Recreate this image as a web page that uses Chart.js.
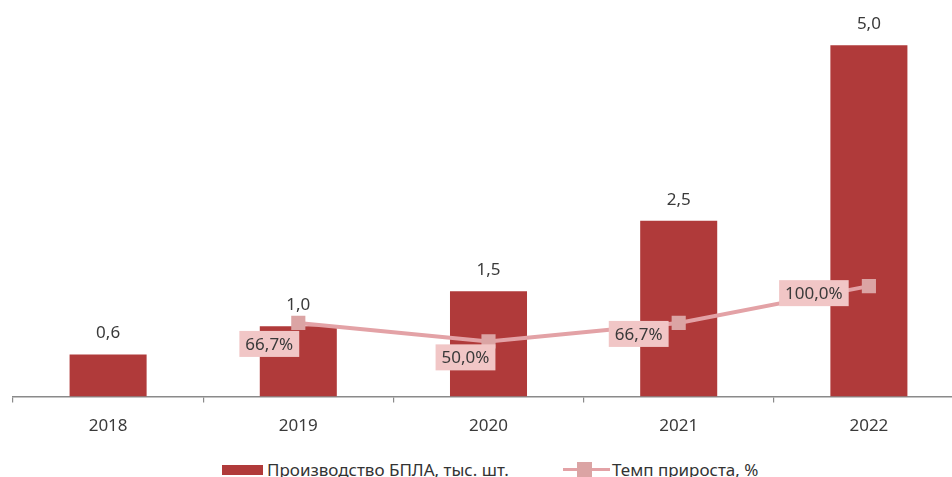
<!DOCTYPE html>
<html>
<head>
<meta charset="utf-8">
<script src="https://cdn.jsdelivr.net/npm/chart.js@4"></script>
<style>
  html, body { margin: 0; padding: 0; background: #fff; overflow: hidden; }
  #wrap { position: absolute; left: 0; top: 0; width: 974px; height: 449px; }
  #legend { position: absolute; left: 0; top: 458px; width: 952px; font: 17px "Noto Sans", sans-serif; color: #333; }
  .item { position: absolute; top: 0; display: flex; align-items: center; white-space: nowrap; line-height: 23px; }
  .barKey { width: 41px; height: 10px; background: #b03a3a; margin-right: 4px; }
  .lineKey { position: relative; width: 47px; height: 15px; margin-right: 2px; }
  .lineKey:before { content: ''; position: absolute; left: 0; right: 0; top: 6px; height: 3px; background: #e3a2a6; }
  .lineKey:after { content: ''; position: absolute; left: 14px; top: 0; width: 15px; height: 15px; background: #dba4a4; }
</style>
</head>
<body>
<div id="wrap"><canvas id="_drones_"></canvas></div>
<div id="legend">
  <div class="item" style="left:222px"><span class="barKey"></span>Производство БПЛА, тыс. шт.</div>
  <div class="item" style="left:563px"><span class="lineKey"></span>Темп прироста, %</div>
</div>
<script>
const years = ['2018', '2019', '2020', '2021', '2022'];
const output = [0.6, 1.0, 1.5, 2.5, 5.0];
const growth = [null, 66.7, 50.0, 66.7, 100.0];

const fmt = (v, d) => v.toFixed(d).replace('.', ',');

// value captions: plain text over bars, pink boxes beside the growth markers
const captions = {
    id: 'captions',
    afterDatasetsDraw(chart, args, opts) {
        const ctx = chart.ctx;
        const bars = chart.getDatasetMeta(opts.barSet).data;
        const points = chart.getDatasetMeta(opts.lineSet).data;
        ctx.save();
        ctx.font = '17px "Noto Sans", sans-serif';
        ctx.textAlign = 'center';
        ctx.textBaseline = 'middle';
        bars.forEach((bar, i) => {
            ctx.fillStyle = '#3a3a3a';
            ctx.fillText(fmt(output[i], 1), bar.x, bar.y - 21);
        });
        points.forEach((pt, i) => {
            if (growth[i] === null) return;
            const txt = fmt(growth[i], 1) + '%';
            const off = opts.shift[i];
            const w = ctx.measureText(txt).width + 12, h = 26;
            const cx = pt.x + off[0], cy = pt.y + off[1];
            ctx.fillStyle = '#f1c6c6';
            ctx.fillRect(cx - w / 2, cy - h / 2, w, h);
            ctx.fillStyle = '#3a3a3a';
            ctx.fillText(txt, cx, cy + 1);
        });
        ctx.restore();
    }
};

let _handle_ = document.getElementById('_drones_');
let _drones_ = new Chart(_handle_, {
    type: 'bar',
    data: {
        labels: years,
        datasets: [{
            type: 'line',
            label: 'Темп прироста, %',
            data: growth,
            yAxisID: 'y2',
            borderColor: '#e3a2a6', borderWidth: 4,
            pointStyle: 'rect', pointRadius: 10, pointHoverRadius: 10,
            pointBackgroundColor: '#dba4a4', pointBorderWidth: 0,
            tension: 0, order: 0
        }, {
            label: 'Производство БПЛА, тыс. шт.',
            data: output,
            yAxisID: 'y',
            backgroundColor: '#b03a3a',
            barPercentage: 1, categoryPercentage: 0.405,
            order: 1
        }]
    },
    options: {
        responsive: true, maintainAspectRatio: false, animation: false,
        layout: { padding: { left: 13, top: 10, right: 0, bottom: 0 } },
        plugins: {
            legend: { display: false }, tooltip: { enabled: false },
            captions: { lineSet: 0, barSet: 1, shift: [null, [-29, 21], [-23, 16], [-40, 11], [-55, 7]] }
        },
        scales: {
            x: {
                grid: { display: true, drawOnChartArea: false, drawTicks: true, tickLength: 6, color: '#8a8a8a', lineWidth: 1.2 },
                border: { display: true, color: '#8a8a8a', width: 1.5 },
                ticks: { color: '#3a3a3a', padding: 13, font: { family: '"Noto Sans", sans-serif', size: 17 } }
            },
            y: { display: false, min: 0, max: 5.5 },
            y2: { display: false, min: 0, max: 350 }
        }
    },
    plugins: [captions]
});
</script>
</body>
</html>
